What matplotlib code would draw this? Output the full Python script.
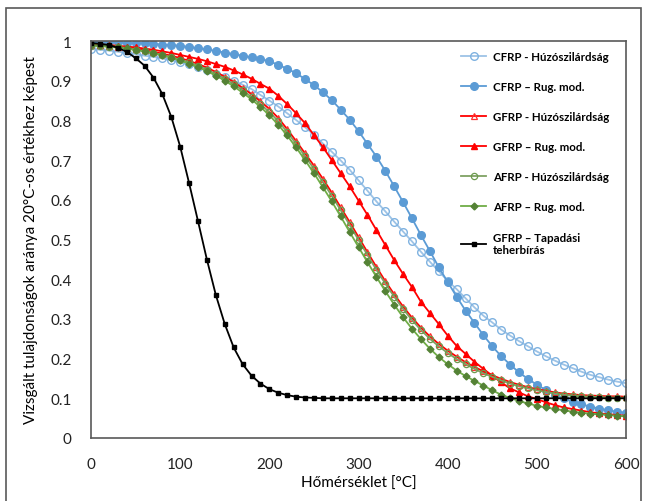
import matplotlib
matplotlib.use('Agg')
import matplotlib.pyplot as plt
from matplotlib.patches import Rectangle

plt.rcParams['font.family'] = ['Lato', 'DejaVu Sans']

temps = list(range(0, 601, 10))

cfrp_huzo = [0.980, 0.978, 0.976, 0.973, 0.970, 0.967, 0.963, 0.960, 0.956, 0.951,
             0.946, 0.941, 0.934, 0.926, 0.917, 0.909, 0.900, 0.890, 0.879, 0.864,
             0.850, 0.835, 0.818, 0.801, 0.783, 0.764, 0.742, 0.721, 0.699, 0.676,
             0.649, 0.623, 0.596, 0.571, 0.545, 0.520, 0.495, 0.469, 0.444, 0.420,
             0.396, 0.375, 0.352, 0.329, 0.308, 0.291, 0.273, 0.258, 0.244, 0.231,
             0.218, 0.206, 0.195, 0.185, 0.176, 0.167, 0.159, 0.153, 0.147, 0.142,
             0.138]
cfrp_rug = [0.998, 0.998, 0.997, 0.997, 0.996, 0.995, 0.994, 0.993, 0.991, 0.990,
            0.988, 0.985, 0.982, 0.979, 0.975, 0.971, 0.967, 0.963, 0.959, 0.955,
            0.949, 0.940, 0.930, 0.919, 0.904, 0.889, 0.871, 0.851, 0.827, 0.802,
            0.773, 0.741, 0.709, 0.673, 0.634, 0.594, 0.553, 0.511, 0.471, 0.430,
            0.393, 0.356, 0.321, 0.290, 0.259, 0.231, 0.206, 0.185, 0.165, 0.149,
            0.134, 0.121, 0.109, 0.100, 0.091, 0.085, 0.079, 0.074, 0.070, 0.066,
            0.064]
gfrp_huzo = [0.990, 0.989, 0.988, 0.986, 0.983, 0.980, 0.977, 0.973, 0.968, 0.963,
             0.957, 0.950, 0.942, 0.933, 0.922, 0.910, 0.897, 0.882, 0.866, 0.848,
             0.829, 0.806, 0.778, 0.748, 0.717, 0.686, 0.653, 0.618, 0.581, 0.544,
             0.506, 0.468, 0.431, 0.395, 0.362, 0.331, 0.303, 0.278, 0.256, 0.237,
             0.220, 0.205, 0.191, 0.179, 0.168, 0.158, 0.149, 0.141, 0.134, 0.128,
             0.123, 0.119, 0.115, 0.112, 0.110, 0.108, 0.107, 0.106, 0.105, 0.105,
             0.104]
gfrp_rug = [0.992, 0.991, 0.990, 0.988, 0.986, 0.984, 0.981, 0.978, 0.974, 0.970,
            0.965, 0.960, 0.955, 0.949, 0.942, 0.935, 0.926, 0.916, 0.905, 0.892,
            0.880, 0.862, 0.841, 0.818, 0.793, 0.763, 0.733, 0.700, 0.667, 0.634,
            0.598, 0.562, 0.524, 0.486, 0.448, 0.413, 0.380, 0.343, 0.315, 0.287,
            0.258, 0.232, 0.212, 0.192, 0.174, 0.157, 0.140, 0.125, 0.115, 0.105,
            0.098, 0.090, 0.083, 0.077, 0.073, 0.069, 0.065, 0.062, 0.060, 0.058,
            0.056]
afrp_huzo = [0.988, 0.987, 0.986, 0.984, 0.981, 0.978, 0.974, 0.970, 0.965, 0.959,
             0.953, 0.946, 0.938, 0.928, 0.917, 0.905, 0.891, 0.876, 0.859, 0.841,
             0.821, 0.798, 0.771, 0.741, 0.710, 0.678, 0.645, 0.610, 0.574, 0.537,
             0.499, 0.461, 0.424, 0.389, 0.356, 0.325, 0.297, 0.272, 0.250, 0.231,
             0.214, 0.199, 0.186, 0.174, 0.163, 0.154, 0.145, 0.137, 0.130, 0.125,
             0.120, 0.116, 0.112, 0.109, 0.107, 0.105, 0.104, 0.103, 0.102, 0.102,
             0.101]
afrp_rug = [0.990, 0.989, 0.987, 0.985, 0.982, 0.978, 0.974, 0.969, 0.964, 0.958,
            0.951, 0.943, 0.934, 0.924, 0.913, 0.900, 0.886, 0.870, 0.853, 0.834,
            0.813, 0.789, 0.762, 0.732, 0.700, 0.667, 0.632, 0.596, 0.558, 0.519,
            0.481, 0.443, 0.406, 0.370, 0.336, 0.304, 0.275, 0.249, 0.225, 0.204,
            0.186, 0.170, 0.156, 0.144, 0.132, 0.120, 0.109, 0.101, 0.093, 0.087,
            0.081, 0.077, 0.073, 0.070, 0.066, 0.064, 0.061, 0.060, 0.058, 0.056,
            0.055]
gfrp_tapad = [0.995, 0.993, 0.990, 0.983, 0.973, 0.957, 0.938, 0.908, 0.866, 0.809,
              0.734, 0.642, 0.546, 0.449, 0.360, 0.287, 0.228, 0.186, 0.157, 0.137,
              0.123, 0.114, 0.108, 0.104, 0.102, 0.101, 0.100, 0.100, 0.100, 0.100,
              0.100, 0.100, 0.100, 0.100, 0.100, 0.100, 0.100, 0.100, 0.100, 0.100,
              0.100, 0.100, 0.100, 0.100, 0.100, 0.100, 0.100, 0.100, 0.100, 0.100,
              0.100, 0.100, 0.100, 0.100, 0.100, 0.100, 0.100, 0.100, 0.100, 0.100,
              0.100]

labels = ['CFRP - Húzószilárdság', 'CFRP – Rug. mod.',
          'GFRP - Húzószilárdság', 'GFRP – Rug. mod.',
          'AFRP - Húzószilárdság', 'AFRP – Rug. mod.',
          'GFRP – Tapadási\nteherbírás']

fig = plt.figure(figsize=(6.52, 5.02), dpi=100)
ax = fig.add_axes([0.1396, 0.1255, 0.8206, 0.7908])

# outer frame of the picture
fig.patches.append(Rectangle((6/652, -0.01), (641-6)/652, 1.0 - 9/502 + 0.01,
                             transform=fig.transFigure, fill=False,
                             edgecolor='#595959', linewidth=1.2))

ax.plot(temps, cfrp_huzo, '-o', color='#9DC3E6', mfc='none', mec='#7FB2E0',
        ms=5.5, mew=1.0, lw=1.3, label=labels[0])
ax.plot(temps, cfrp_rug, '-o', color='#5B9BD5', ms=5.5, lw=1.3, label=labels[1])
ax.plot(temps, gfrp_huzo, '-^', color='#FF0000', mfc='none', mec='#FF3030',
        ms=4.5, mew=0.9, lw=1.3, label=labels[2])
ax.plot(temps, gfrp_rug, '-^', color='#FF0000', ms=5, lw=1.3, label=labels[3])
ax.plot(temps, afrp_huzo, '-o', color='#7FA163', mfc='none', mec='#6C9A4E',
        ms=4.5, mew=0.9, lw=1.3, label=labels[4])
ax.plot(temps, afrp_rug, '-D', color='#70AD47', mfc='#548235', mec='#548235',
        ms=3.5, lw=1.3, label=labels[5])
ax.plot(temps, gfrp_tapad, '-s', color='#000000', ms=3.2, lw=1.3, label=labels[6])

ax.set_xlim(0, 600)
ax.set_ylim(0, 1)
ax.set_xticks([0, 100, 200, 300, 400, 500, 600])
ax.set_yticks([0, 0.1, 0.2, 0.3, 0.4, 0.5, 0.6, 0.7, 0.8, 0.9, 1])
ax.set_yticklabels(['0', '0.1', '0.2', '0.3', '0.4', '0.5', '0.6', '0.7', '0.8', '0.9', '1'])
ax.tick_params(axis='y', length=0, labelsize=11, colors='#222222', pad=14)
ax.tick_params(axis='x', length=0, labelsize=11, colors='#222222', pad=14)
for sp in ax.spines.values():
    sp.set_color('#595959')
    sp.set_linewidth(1.2)

ax.set_xlabel('Hőmérséklet [°C]', fontsize=11, labelpad=3)
ax.set_ylabel('Vizsgált tulajdonságok aránya 20°C-os értékhez képest', fontsize=11, labelpad=9)

leg = ax.legend(loc='upper left', bbox_to_anchor=(0.672, 1.0), frameon=False,
                prop={'weight': 'bold', 'size': 8.3}, labelspacing=1.65,
                handlelength=2.2, handletextpad=0.6)

fig.savefig('out.png', dpi=100)
